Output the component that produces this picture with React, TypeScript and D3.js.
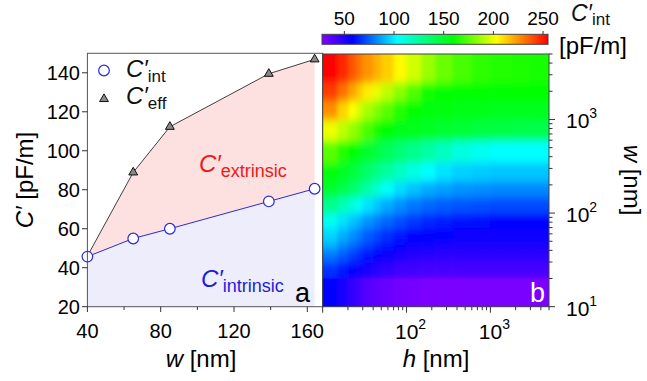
import * as d3 from 'd3';
import { useEffect, useRef } from 'react';

// panel a: capacitance per unit length vs wire width
const widths = [40, 65, 85, 139, 164];
const cIntrinsic = [45.7, 55, 60, 74, 80.5];
const cEffective = [46, 88.9, 112.3, 139.5, 146.9];
const leftXTicks = [40, 80, 120, 160];
const leftXMinor = [60, 100, 140];
const leftYTicks = [20, 40, 60, 80, 100, 120, 140];

// panel b: C'int map over height h (columns) and width w (rows)
const hEdges = [10, 15, 20, 25, 30, 40, 50, 70, 100, 150, 220, 350, 600, 1000, 1800, 3000, 5000];
const wEdges = [10, 20, 30, 40, 50, 70, 100, 150, 220, 350, 600, 1000, 1600, 2500, 5000];
// rows from w = 10 (bottom) to w = 5000 (top)
const cMap = [
  [59, 52, 46, 42, 38, 35, 33, 31, 30, 29, 29, 29, 29, 29, 29, 29],
  [66, 62, 59, 56, 53, 49, 46, 43, 42, 41, 41, 41, 41, 41, 41, 41],
  [78, 73, 68, 65, 61, 57, 54, 51, 49, 48, 47, 47, 47, 47, 47, 47],
  [88, 81, 76, 72, 68, 63, 60, 57, 55, 54, 53, 52, 52, 52, 52, 52],
  [96, 89, 84, 80, 74, 70, 66, 62, 59, 58, 57, 56, 56, 56, 56, 56],
  [106, 98, 93, 89, 84, 80, 76, 72, 68, 65, 63, 61, 60, 59, 59, 59],
  [128, 119, 111, 104, 98, 93, 88, 83, 79, 76, 74, 73, 72, 71, 71, 71],
  [150, 143, 137, 131, 122, 113, 104, 97, 92, 88, 86, 84, 83, 82, 82, 82],
  [158, 152, 147, 142, 136, 130, 124, 116, 109, 103, 98, 95, 94, 93, 93, 93],
  [175, 166, 160, 155, 150, 145, 140, 134, 129, 123, 117, 110, 106, 103, 103, 103],
  [200, 192, 185, 180, 172, 164, 159, 156, 154, 152, 150, 148, 146, 145, 144, 143],
  [226, 212, 203, 196, 188, 181, 175, 166, 160, 158, 157, 156, 155, 154, 153, 153],
  [243, 232, 222, 214, 206, 199, 192, 183, 173, 162, 159, 159, 160, 160, 160, 160],
  [255, 247, 238, 231, 225, 219, 213, 204, 195, 186, 178, 172, 168, 166, 165, 164],
];
const hMajor = [10, 100, 1000];
const wMajor = [10, 100, 1000];
const cbarTicks = [50, 100, 150, 200, 250];
const colorStops = [27.5, 58, 103, 160, 203, 255];
const colorList = ['#8000ff', '#0000ff', '#00ffff', '#00ff00', '#ffff00', '#ff0000'];

const FONT = '"Liberation Sans", Arial, sans-serif';

export default function App() {
  const ref = useRef<SVGSVGElement>(null);

  useEffect(() => {
    const svg = d3.select(ref.current);
    svg.selectAll('*').remove();

    const x = d3.scaleLinear().domain([40, 168.4]).range([87.4, 322.7]);
    const y = d3.scaleLinear().domain([20, 150]).range([306.7, 53.3]);
    const hs = d3.scaleLog().domain([10, 5000]).range([322.7, 549]);
    const ws = d3.scaleLog().domain([10, 5000]).range([306.7, 54]);
    const cb = d3.scaleLinear().domain([27.5, 255]).range([322, 548]);
    const color = d3.scaleLinear<string>().domain(colorStops).range(colorList)
      .interpolate(d3.interpolateRgb).clamp(true);

    const defs = svg.append('defs');
    const root = svg.append('g').style('font-family', FONT);

    // ---- panel a ----
    const pts = widths.map((w, i) => ({ w, ci: cIntrinsic[i], ce: cEffective[i] }));
    root.append('path')
      .datum(pts)
      .attr('fill', '#ededfb')
      .attr('d', d3.area<any>().x((d) => x(d.w)).y0(y(20)).y1((d) => y(d.ci)));
    root.append('path')
      .datum(pts)
      .attr('fill', '#fde0e0')
      .attr('d', d3.area<any>().x((d) => x(d.w)).y0((d) => y(d.ci)).y1((d) => y(d.ce)));

    root.append('path')
      .datum(pts)
      .attr('fill', 'none')
      .attr('stroke', '#111')
      .attr('stroke-width', 0.8)
      .attr('d', d3.line<any>().x((d) => x(d.w)).y((d) => y(d.ce)));
    root.append('path')
      .datum(pts)
      .attr('fill', 'none')
      .attr('stroke', '#2a2ad8')
      .attr('stroke-width', 1)
      .attr('d', d3.line<any>().x((d) => x(d.w)).y((d) => y(d.ci)));

    const tri = d3.symbol().type(d3.symbolTriangle).size(34);
    root.selectAll('.tri')
      .data(pts)
      .enter()
      .append('path')
      .attr('transform', (d) => `translate(${x(d.w)},${y(d.ce)})`)
      .attr('d', tri() as string)
      .attr('fill', '#888')
      .attr('stroke', '#111')
      .attr('stroke-width', 1);
    root.selectAll('.circ')
      .data(pts)
      .enter()
      .append('circle')
      .attr('cx', (d) => x(d.w))
      .attr('cy', (d) => y(d.ci))
      .attr('r', 5.3)
      .attr('fill', '#fff')
      .attr('stroke', '#2a2ad8')
      .attr('stroke-width', 1.2);

    // frame a
    root.append('rect')
      .attr('x', 87.4).attr('y', 53.3)
      .attr('width', 322.7 - 87.4).attr('height', 306.7 - 53.3)
      .attr('fill', 'none').attr('stroke', '#555').attr('stroke-width', 1);

    // axes a
    leftYTicks.forEach((v) => {
      root.append('line').attr('x1', 82).attr('x2', 87.4).attr('y1', y(v)).attr('y2', y(v))
        .attr('stroke', '#333');
      root.append('text').attr('x', 80).attr('y', y(v) + 7.5).attr('text-anchor', 'end')
        .style('font-size', '20px').text(v);
    });
    leftXTicks.forEach((v) => {
      root.append('line').attr('x1', x(v)).attr('x2', x(v)).attr('y1', 306.7).attr('y2', 312)
        .attr('stroke', '#333');
      root.append('text').attr('x', x(v)).attr('y', 338).attr('text-anchor', 'middle')
        .style('font-size', '20px').text(v);
    });
    leftXMinor.forEach((v) => {
      root.append('line').attr('x1', x(v)).attr('x2', x(v)).attr('y1', 306.7).attr('y2', 310)
        .attr('stroke', '#333');
    });

    const subLabel = (px: number, py: number, main: string, sub: string, fill: string,
      size: number, subSize: number, dy: number) => {
      const t = root.append('text').attr('x', px).attr('y', py).attr('fill', fill);
      t.append('tspan').style('font-size', `${size}px`).style('font-style', 'italic').text(main);
      t.append('tspan').style('font-size', `${subSize}px`).attr('dy', dy).text(sub);
      return t;
    };

    // legend
    root.append('circle').attr('cx', 104).attr('cy', 70.5).attr('r', 5.3)
      .attr('fill', '#fff').attr('stroke', '#2a2ad8').attr('stroke-width', 1.2);
    subLabel(126, 77, 'C\u2032', 'int', '#111', 24, 17, 5);
    root.append('path').attr('transform', 'translate(104,99)').attr('d', tri() as string)
      .attr('fill', '#888').attr('stroke', '#111');
    subLabel(126, 104, 'C\u2032', 'eff', '#111', 24, 17, 5);

    subLabel(199, 172, 'C\u2032', 'extrinsic', '#f01818', 24, 18, 5);
    subLabel(201, 287, 'C\u2032', 'intrinsic', '#1c1cdc', 24, 18, 5);
    root.append('text').attr('x', 295).attr('y', 302).style('font-size', '27px').text('a');

    const yl = root.append('text').attr('transform', 'translate(33,180) rotate(-90)')
      .attr('text-anchor', 'middle').style('font-size', '24px');
    yl.append('tspan').style('font-style', 'italic').text('C\u2032');
    yl.append('tspan').text(' [pF/m]');

    const xl = root.append('text').attr('x', 201).attr('y', 367).attr('text-anchor', 'middle')
      .style('font-size', '24px');
    xl.append('tspan').style('font-style', 'italic').text('w');
    xl.append('tspan').text(' [nm]');

    // ---- panel b ----
    defs.append('clipPath').attr('id', 'mapclip')
      .append('rect').attr('x', 322.7).attr('y', 54)
      .attr('width', 549 - 322.7).attr('height', 306.7 - 54);
    const blur = defs.append('filter').attr('id', 'smooth')
      .attr('x', '-10%').attr('y', '-10%').attr('width', '120%').attr('height', '120%');
    blur.append('feGaussianBlur').attr('stdDeviation', '2 4.5');

    const pad = 20;
    const hx = (v: number) => (v <= 10 ? hs(v) - pad : v >= 5000 ? hs(v) + pad : hs(v));
    const wy = (v: number) => (v <= 10 ? ws(v) + pad : v >= 5000 ? ws(v) - pad : ws(v));
    const cells: { h0: number; h1: number; w0: number; w1: number; v: number; row: number }[] = [];
    cMap.forEach((row, i) => {
      row.forEach((v, j) => {
        cells.push({ h0: hEdges[j], h1: hEdges[j + 1], w0: wEdges[i], w1: wEdges[i + 1], v, row: i });
      });
    });
    const mapG = root.append('g').attr('clip-path', 'url(#mapclip)');
    mapG.append('g')
      .attr('filter', 'url(#smooth)')
      .selectAll('rect')
      .data(cells)
      .enter()
      .append('rect')
      .attr('x', (d) => hx(d.h0))
      .attr('y', (d) => wy(d.w1))
      .attr('width', (d) => hx(d.h1) - hx(d.h0) + 0.6)
      .attr('height', (d) => wy(d.w0) - wy(d.w1) + 0.6)
      .attr('fill', (d) => color(d.v));
    // lowest row stays sharp, as in the original map
    mapG.append('g')
      .attr('filter', 'url(#smoothx)')
      .selectAll('rect')
      .data(cells.filter((d) => d.row === 0))
      .enter()
      .append('rect')
      .attr('x', (d) => hx(d.h0))
      .attr('y', (d) => ws(d.w1))
      .attr('width', (d) => hx(d.h1) - hx(d.h0) + 0.6)
      .attr('height', (d) => ws(d.w0) - ws(d.w1) + 1)
      .attr('fill', (d) => color(d.v));
    defs.append('filter').attr('id', 'smoothx')
      .attr('x', '-10%').attr('y', '0%').attr('width', '120%').attr('height', '100%')
      .append('feGaussianBlur').attr('stdDeviation', '2 0');

    root.append('rect')
      .attr('x', 322.7).attr('y', 54)
      .attr('width', 549 - 322.7).attr('height', 306.7 - 54)
      .attr('fill', 'none').attr('stroke', '#444').attr('stroke-width', 1);

    root.append('text').attr('x', 530).attr('y', 302).attr('fill', '#fff')
      .style('font-size', '27px').text('b');

    // log axes
    const logTicks = (lo: number, hi: number) => {
      const out: { v: number; major: boolean }[] = [];
      for (let d = 10; d <= hi; d *= 10) {
        for (let k = 1; k <= 9; k++) {
          const v = d * k;
          if (v >= lo && v <= hi) out.push({ v, major: k === 1 });
        }
      }
      return out;
    };
    logTicks(10, 5000).forEach((t) => {
      const len = t.major ? 6 : 3.5;
      root.append('line').attr('x1', hs(t.v)).attr('x2', hs(t.v))
        .attr('y1', 306.7).attr('y2', 306.7 + len).attr('stroke', '#333');
      root.append('line').attr('y1', ws(t.v)).attr('y2', ws(t.v))
        .attr('x1', 549).attr('x2', 549 + len).attr('stroke', '#333');
    });
    const powLabel = (px: number, py: number, exp: number, anchor: string) => {
      const t = root.append('text').attr('x', px).attr('y', py).attr('text-anchor', anchor);
      t.append('tspan').style('font-size', '21px').text('10');
      t.append('tspan').style('font-size', '14px').attr('dy', -10).text(exp);
    };
    hMajor.filter((v) => v > 10).forEach((v) => powLabel(hs(v) + 4, 339, Math.log10(v), 'middle'));
    wMajor.forEach((v) => powLabel(566, ws(v) + 9, Math.log10(v), 'start'));

    const hl = root.append('text').attr('x', 436).attr('y', 367).attr('text-anchor', 'middle')
      .style('font-size', '24px');
    hl.append('tspan').style('font-style', 'italic').text('h');
    hl.append('tspan').text(' [nm]');

    const wl = root.append('text').attr('transform', 'translate(624,180) rotate(90)')
      .attr('text-anchor', 'middle').style('font-size', '24px');
    wl.append('tspan').style('font-style', 'italic').text('w');
    wl.append('tspan').text(' [nm]');

    // colorbar
    const grad = defs.append('linearGradient').attr('id', 'cbar')
      .attr('x1', '0%').attr('x2', '100%').attr('y1', '0%').attr('y2', '0%');
    colorStops.forEach((v, i) => {
      grad.append('stop')
        .attr('offset', `${((cb(v) - 322) / 226) * 100}%`)
        .attr('stop-color', colorList[i]);
    });
    root.append('rect').attr('x', 322).attr('y', 34.3).attr('width', 226).attr('height', 10)
      .attr('fill', 'url(#cbar)').attr('stroke', '#444').attr('stroke-width', 1);
    cbarTicks.forEach((v) => {
      root.append('line').attr('x1', cb(v)).attr('x2', cb(v)).attr('y1', 31).attr('y2', 34.3)
        .attr('stroke', '#333');
      root.append('text').attr('x', cb(v)).attr('y', 25).attr('text-anchor', 'middle')
        .style('font-size', '19px').text(v);
    });
    subLabel(571, 21, 'C\u2032', 'int', '#111', 23, 17, 4);
    root.append('text').attr('x', 559).attr('y', 54).style('font-size', '24px').text('[pF/m]');

    return () => {
      svg.selectAll('*').remove();
    };
  }, []);

  return (
    <svg
      ref={ref}
      width={647}
      height={381}
      style={{ position: 'absolute', left: 0, top: 0, background: '#fff' }}
      role="img"
      aria-label="Capacitance per unit length"
    />
  );
}
